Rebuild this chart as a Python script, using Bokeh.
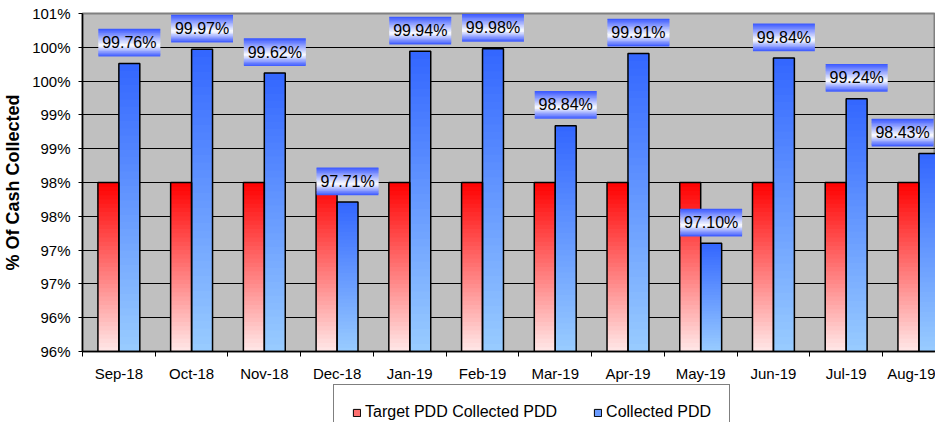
from bokeh.plotting import figure
from bokeh.layouts import column
from bokeh.models import ColumnDataSource, FixedTicker, Legend, LegendItem, Range1d
from bokeh.core.properties import value
from bokeh.embed import file_html
from bokeh.resources import INLINE

# ---- data ----
months = ["Sep-18", "Oct-18", "Nov-18", "Dec-18", "Jan-19", "Feb-19",
          "Mar-19", "Apr-19", "May-19", "Jun-19", "Jul-19", "Aug-19"]
target = [98.0, 98.0, 98.0, 98.0, 98.0, 98.0, 98.0, 98.0, 98.0, 98.0, 98.0, 98.0]
collected = [99.76, 99.97, 99.62, 97.71, 99.94, 99.98, 98.84, 99.91, 97.10, 99.84, 99.24, 98.43]
y_ticks = [95.5, 96.0, 96.5, 97.0, 97.5, 98.0, 98.5, 99.0, 99.5, 100.0, 100.5]
y_tick_labels = ["96%", "96%", "97%", "97%", "98%", "98%", "99%", "99%", "100%", "100%", "101%"]
series_names = ["Target PDD Collected PDD", "Collected PDD"]

# ---- layout ----
FONT = "Liberation Sans"
W = 935
H_MAIN, H_LEG = 384, 38
ML, MT, MB, MR = 80, 13, 30, 0
FW = W - ML - MR
FH = H_MAIN - MT - MB
PX_PER_CAT = 72.9
x_start = -0.5
x_end = x_start + FW / PX_PER_CAT
y_start, y_end = y_ticks[0], y_ticks[-1]
dx = 1.0 / PX_PER_CAT
dy = (y_end - y_start) / FH
BW = 21 * dx

RED_TOP, RED_BOT = (255, 0, 0), (255, 232, 232)
BLUE_TOP, BLUE_BOT = (51, 102, 255), (153, 204, 255)
LBL_BLUE = (55, 85, 255)


def mix(c1, c2, t):
    return "#%02x%02x%02x" % tuple(int(round(a + (b - a) * t)) for a, b in zip(c1, c2))


p = figure(width=W, height=H_MAIN, x_range=Range1d(x_start, x_end), y_range=Range1d(y_start, y_end),
           output_backend="svg", toolbar_location=None, title=None,
           min_border_left=ML, min_border_right=MR, min_border_top=MT, min_border_bottom=MB,
           background_fill_color="#C0C0C0", border_fill_color="white")
p.outline_line_color = "#808080"
p.outline_line_width = 2

# ---- gradient bars ----
N = 40
sl = dict(left=[], right=[], bottom=[], top=[], color=[])
outl = dict(left=[], right=[], top=[])
for i, (tv, cv) in enumerate(zip(target, collected)):
    for left, val, ctop, cbot in [(i - BW, tv, RED_TOP, RED_BOT), (i, cv, BLUE_TOP, BLUE_BOT)]:
        h = (val - y_start) / N
        for k in range(N):
            b = y_start + k * h
            sl["left"].append(left)
            sl["right"].append(left + BW)
            sl["bottom"].append(b)
            sl["top"].append(min(val, b + 1.6 * h))
            sl["color"].append(mix(cbot, ctop, (k + 0.5) / N))
        outl["left"].append(left)
        outl["right"].append(left + BW)
        outl["top"].append(val)

p.quad(left="left", right="right", bottom="bottom", top="top", fill_color="color",
       line_color=None, source=ColumnDataSource(sl))
p.quad(left="left", right="right", bottom=y_start, top="top", fill_color=None,
       line_color="black", line_width=1.5, source=ColumnDataSource(outl))

# ---- data label boxes ----
M = 20
BOX_W, BOX_H, GAP = 62, 28, 7
lb = dict(left=[], right=[], bottom=[], top=[], color=[])
txt = dict(x=[], y=[], text=[])
for i, cv in enumerate(collected):
    cx = min(i + BW / 2, x_end - (BOX_W / 2 + 2) * dx)
    b0 = cv + GAP * dy
    hh = BOX_H * dy
    for k in range(M):
        t = (k + 0.5) / M
        tt = 1 - t
        if tt < 0.6:
            col = mix(LBL_BLUE, (255, 255, 255), tt / 0.6)
        else:
            col = mix((255, 255, 255), LBL_BLUE, (tt - 0.6) / 0.4)
        bb = b0 + k * hh / M
        lb["left"].append(cx - BOX_W / 2 * dx)
        lb["right"].append(cx + BOX_W / 2 * dx)
        lb["bottom"].append(bb)
        lb["top"].append(min(b0 + hh, bb + 1.6 * hh / M))
        lb["color"].append(col)
    txt["x"].append(cx)
    txt["y"].append(b0 + hh / 2)
    txt["text"].append("%.2f%%" % cv)

p.quad(left="left", right="right", bottom="bottom", top="top", fill_color="color",
       line_color=None, source=ColumnDataSource(lb))
p.text(x="x", y="y", text="text", source=ColumnDataSource(txt), text_align="center",
       text_baseline="middle", text_font=value(FONT), text_font_size="16px", text_color="black")

# ---- axes ----
p.xgrid.visible = False
p.ygrid.ticker = FixedTicker(ticks=y_ticks[1:-1])
p.ygrid.grid_line_color = "black"
p.ygrid.grid_line_width = 1

p.xaxis.ticker = FixedTicker(ticks=list(range(len(months))),
                             minor_ticks=[i - 0.5 for i in range(len(months) + 1)])
p.xaxis.major_label_overrides = {i: m for i, m in enumerate(months)}
p.xaxis.major_tick_line_color = None
p.xaxis.major_tick_out = 0
p.xaxis.major_tick_in = 0
p.xaxis.minor_tick_out = 5
p.xaxis.minor_tick_in = 0
p.xaxis.minor_tick_line_color = "black"
p.xaxis.axis_line_color = "black"
p.xaxis.axis_line_width = 1.5
p.xaxis.major_label_standoff = 8
p.xaxis.major_label_text_font = FONT
p.xaxis.major_label_text_font_size = "15px"
p.xaxis.major_label_text_color = "black"

p.yaxis.ticker = FixedTicker(ticks=y_ticks)
p.yaxis.major_label_overrides = {v: s for v, s in zip(y_ticks, y_tick_labels)}
p.yaxis.minor_tick_line_color = None
p.yaxis.major_tick_out = 4
p.yaxis.major_tick_in = 0
p.yaxis.major_tick_line_color = "black"
p.yaxis.axis_line_color = "black"
p.yaxis.axis_line_width = 1.5
p.yaxis.major_label_standoff = 8
p.yaxis.major_label_text_font = FONT
p.yaxis.major_label_text_font_size = "15px"
p.yaxis.major_label_text_color = "black"
p.yaxis.axis_label = "% Of Cash Collected"
p.yaxis.axis_label_text_font = FONT
p.yaxis.axis_label_text_font_size = "18px"
p.yaxis.axis_label_text_font_style = "bold"
p.yaxis.axis_label_text_color = "black"
p.yaxis.axis_label_standoff = 6

# ---- legend (separate strip under the chart) ----
lg = figure(width=W, height=H_LEG, x_range=Range1d(0, 1), y_range=Range1d(0, 1),
            output_backend="svg", toolbar_location=None, title=None,
            min_border_left=0, min_border_right=0, min_border_top=0, min_border_bottom=0,
            border_fill_color="white", background_fill_color="white")
lg.axis.visible = False
lg.grid.visible = False
lg.outline_line_color = None
# off-range swatch renderers (only their legend glyphs show)
r1 = lg.quad(left=[5], right=[6], top=[6], bottom=[5], fill_color="#FF7070", line_color="black", line_width=1)
r2 = lg.quad(left=[5], right=[6], top=[6], bottom=[5], fill_color="#6A9BFF", line_color="black", line_width=1)
LEG_PAD = 18
LEG_BOX_H = 2 * LEG_PAD + 16
legend = Legend(items=[LegendItem(label=series_names[0], renderers=[r1]),
                       LegendItem(label=series_names[1], renderers=[r2])],
                orientation="horizontal", location=(331 - ML, H_LEG - 4 - LEG_BOX_H),
                padding=LEG_PAD, spacing=36, label_standoff=4, glyph_width=9, glyph_height=9,
                label_height=16, margin=0,
                label_text_font=FONT, label_text_font_size="16px", label_text_color="black",
                border_line_color="black", border_line_width=1,
                background_fill_color="white", background_fill_alpha=1.0)
lg.add_layout(legend)

layout = column(p, lg, spacing=0)
open("out.html", "w").write(file_html(layout, INLINE))
